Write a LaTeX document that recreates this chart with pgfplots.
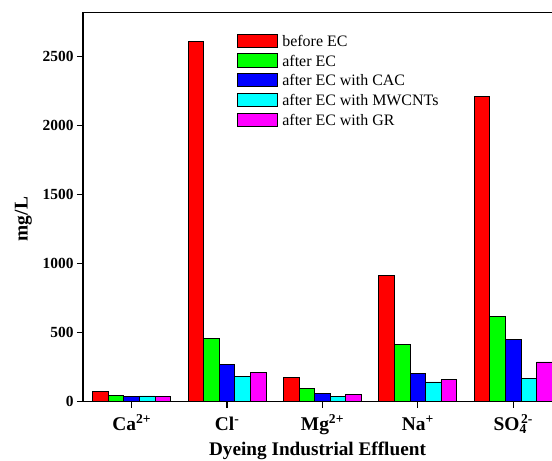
\documentclass[border=0pt]{standalone}
\usepackage{fontspec}
\setmainfont{Liberation Serif}
\usepackage{pgfplots}
\pgfplotsset{compat=1.18}
\begin{document}
\begin{tikzpicture}
\begin{axis}[
  at={(0,0)}, anchor=south west,
  scale only axis, width=469bp, height=389.4bp,
  xmin=-0.51, xmax=4.406, ymin=0, ymax=2822,
  clip=false,
  axis lines*=left,
  axis line style={line width=1.5bp},
  ybar=0pt, bar width=15.6bp,
  xtick={0,1,2,3,4},
  xticklabels={Ca\textsuperscript{2+}, Cl\textsuperscript{-}, Mg\textsuperscript{2+}, Na\textsuperscript{+}, SO\rlap{\textsubscript{4}}\kern1.5bp\textsuperscript{2-}},
  ytick={0,500,1000,1500,2000,2500},
  tick align=outside,
  major tick length=6bp,
  tick style={line width=1.2bp, black},
  /pgf/number format/assume math mode=true,
  /pgf/number format/set thousands separator={},
  yticklabel style={font=\fontsize{15.5}{18}\selectfont\bfseries},
  xticklabel style={font=\fontsize{19.5}{22}\selectfont\bfseries, anchor=base, yshift=-23bp},
  xlabel={Dyeing Industrial Effluent},
  ylabel={mg/L},
  xlabel style={at={(axis description cs:0.5,-0.1394)}, anchor=base, font=\fontsize{19.3}{22}\selectfont\bfseries},
  ylabel style={at={(axis description cs:-0.1179,0.469)}, anchor=base, font=\fontsize{19.5}{22}\selectfont\bfseries},
  legend style={draw=none, fill=none, at={(axis description cs:0.3277,0.946)}, anchor=north west,
    font=\fontsize{16}{20}\selectfont, row sep=3.1bp, column sep=4.7bp, inner sep=0pt,
    nodes={inner sep=0pt, text height=12bp, text depth=4bp}},
  legend cell align=left,
  legend image code/.code={\draw[#1, line width=0.8bp] (0bp,-5bp) rectangle (40bp,8.3bp);},
]
\addplot[fill={rgb,255:red,255;green,0;blue,0}, draw=black, line width=0.8bp] coordinates {(0,77) (1,2611) (2,174) (3,913) (4,2210)};
\addplot[fill={rgb,255:red,0;green,255;blue,0}, draw=black, line width=0.8bp] coordinates {(0,45) (1,461) (2,99) (3,418) (4,619)};
\addplot[fill={rgb,255:red,0;green,0;blue,255}, draw=black, line width=0.8bp] coordinates {(0,38) (1,271) (2,58) (3,206) (4,452)};
\addplot[fill={rgb,255:red,0;green,255;blue,255}, draw=black, line width=0.8bp] coordinates {(0,42) (1,186) (2,39) (3,143) (4,167)};
\addplot[fill={rgb,255:red,255;green,0;blue,255}, draw=black, line width=0.8bp] coordinates {(0,36) (1,213) (2,51) (3,164) (4,288)};
\legend{before EC, after EC, after EC with CAC, after EC with MWCNTs, after EC with GR}
\draw[line width=1.5bp] (axis description cs:0,1) -- (axis description cs:1,1);
\end{axis}
\pgfresetboundingbox
\path (-83bp,-59.3bp) rectangle (469bp,401.7bp);
\end{tikzpicture}
\end{document}
